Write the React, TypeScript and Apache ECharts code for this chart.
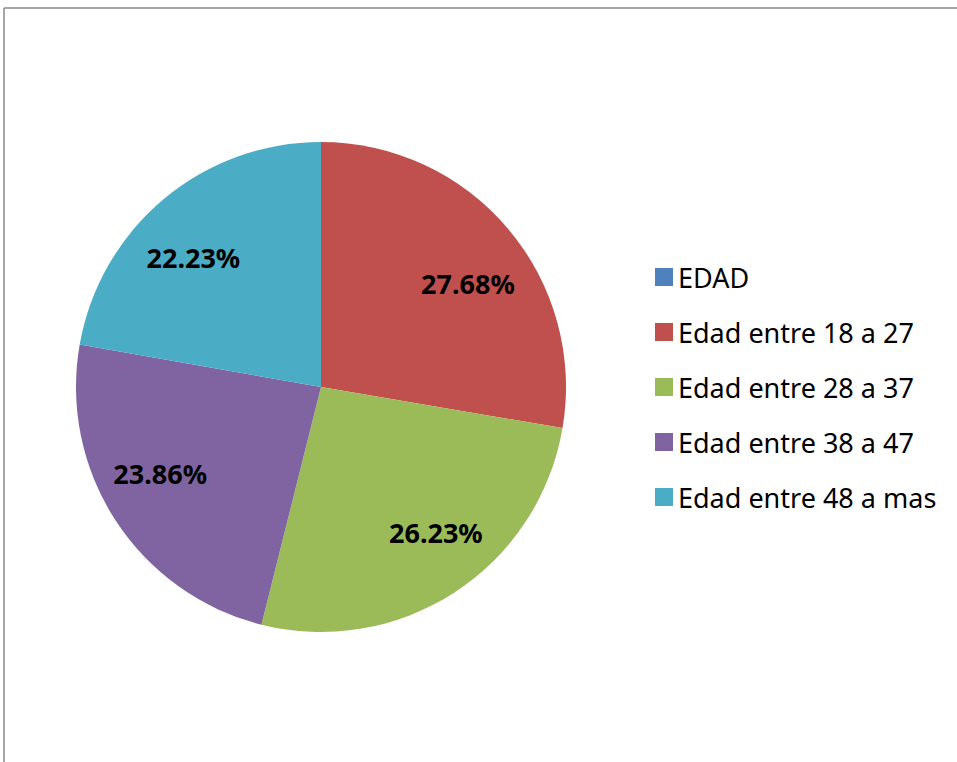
import React, { useEffect, useRef } from "react";
import * as echarts from "echarts";

const categories = ["EDAD", "Edad entre 18 a 27", "Edad entre 28 a 37", "Edad entre 38 a 47", "Edad entre 48 a mas"];
const values = [0, 27.68, 26.23, 23.86, 22.23];
const colors = ["#4F81BD", "#C0504D", "#9BBB59", "#8064A2", "#4BACC6"];
const labelOffsets = [[0, 0], [6, 16], [14, -9], [-6, -14], [-9, 12]];

export default function App() {
  const ref = useRef<HTMLDivElement>(null);
  useEffect(() => {
    const chart = echarts.init(ref.current!, null, { renderer: "svg" });
    const data = categories.map((name, i) => ({ name, value: values[i], itemStyle: { color: colors[i] } }));
    chart.setOption({
      animation: false,
      backgroundColor: "#ffffff",
      legend: {
        orient: "vertical",
        left: 650,
        top: 258,
        itemWidth: 18,
        itemHeight: 18,
        itemGap: 27,
        icon: "rect",
        textStyle: { fontFamily: "Noto Sans", fontSize: 27, lineHeight: 28, color: "#000" },
        data: categories,
        selectedMode: false,
      },
      graphic: [
        { type: "line", shape: { x1: 4, y1: 8, x2: 957, y2: 8 }, style: { stroke: "#888", lineWidth: 1.5 } },
        { type: "line", shape: { x1: 4, y1: 8, x2: 4, y2: 762 }, style: { stroke: "#888", lineWidth: 1.5 } },
      ],
      series: [
        {
          type: "pie",
          center: [321, 387],
          radius: [0, 245],
          startAngle: 90,
          clockwise: true,
          label: { show: false },
          labelLine: { show: false },
          itemStyle: { borderWidth: 0 },
          silent: true,
          data,
        },
        {
          type: "pie",
          center: [321, 387],
          radius: [118, 245],
          startAngle: 90,
          clockwise: true,
          silent: true,
          itemStyle: { color: "transparent", borderWidth: 0 },
          label: {
            show: true,
            position: "inside",
            fontFamily: "Noto Sans",
            fontWeight: "bold",
            fontSize: 27,
            color: "#000",
            formatter: (p: any) => (p.value > 0 ? p.value.toFixed(2) + "%" : ""),
          },
          labelLine: { show: false },
          data: values.map((v, i) => ({ name: categories[i] + " ", value: v, label: { offset: labelOffsets[i] } })),
        },
      ],
    });
    return () => chart.dispose();
  }, []);
  return <div ref={ref} style={{ position: "fixed", left: 0, top: 0, width: 957, height: 762 }} />;
}
